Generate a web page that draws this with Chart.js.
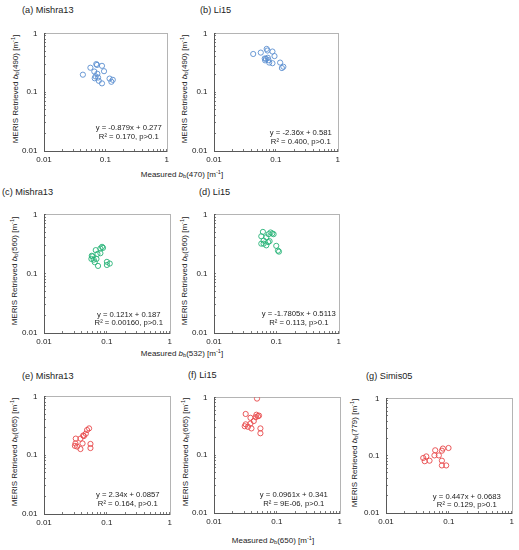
<!DOCTYPE html>
<html>
<head>
<meta charset="utf-8">
<script src="https://cdn.jsdelivr.net/npm/chart.js@4.4.1/dist/chart.umd.min.js"></script>
<style>
  body { margin: 0; background: #fff; }
  #wrap { position: relative; width: 519px; height: 550px; overflow: hidden;
          font-family: "Liberation Sans", Arial, sans-serif; color: #222; }
  .panel { position: absolute; }
  .lbl { position: absolute; white-space: nowrap; line-height: 1; }
  .ttl { font-size: 9.2px; }
  .ax { font-size: 8px; transform: translate(-50%, -50%); }
  .yax { font-size: 8px; transform: translate(-50%, -50%) rotate(-90deg); }
  .sb { font-size: 70%; vertical-align: -0.25em; }
  .sp { font-size: 70%; vertical-align: 0.45em; }
</style>
</head>
<body>
<div id="wrap">
  <div class="lbl ttl" style="left:22px;top:6px">(a) Mishra13</div>
  <div class="lbl ttl" style="left:200px;top:6px">(b) Li15</div>
  <div class="lbl ttl" style="left:2px;top:188px">(c) Mishra13</div>
  <div class="lbl ttl" style="left:199px;top:188px">(d) Li15</div>
  <div class="lbl ttl" style="left:22px;top:372px">(e) Mishra13</div>
  <div class="lbl ttl" style="left:188px;top:371px">(f) Li15</div>
  <div class="lbl ttl" style="left:366px;top:372px">(g) Simis05</div>

  <div class="lbl yax" style="left:16px;top:89px">MERIS Retrieved <i>b</i><span class="sb">b</span>(490) [m<span class="sp">-1</span>]</div>
  <div class="lbl yax" style="left:185px;top:89px">MERIS Retrieved <i>b</i><span class="sb">b</span>(490) [m<span class="sp">-1</span>]</div>
  <div class="lbl yax" style="left:15px;top:271px">MERIS Retrieved <i>b</i><span class="sb">b</span>(560) [m<span class="sp">-1</span>]</div>
  <div class="lbl yax" style="left:185px;top:271px">MERIS Retrieved <i>b</i><span class="sb">b</span>(560) [m<span class="sp">-1</span>]</div>
  <div class="lbl yax" style="left:15px;top:452px">MERIS Retrieved <i>b</i><span class="sb">b</span>(665) [m<span class="sp">-1</span>]</div>
  <div class="lbl yax" style="left:186px;top:452px">MERIS Retrieved <i>b</i><span class="sb">b</span>(665) [m<span class="sp">-1</span>]</div>
  <div class="lbl yax" style="left:355px;top:453px">MERIS Retrieved <i>b</i><span class="sb">b</span>(779) [m<span class="sp">-1</span>]</div>

  <div class="lbl ax" style="left:182px;top:175px">Measured <i>b</i><span class="sb">b</span>(470) [m<span class="sp">-1</span>]</div>
  <div class="lbl ax" style="left:182px;top:354px">Measured <i>b</i><span class="sb">b</span>(532) [m<span class="sp">-1</span>]</div>
  <div class="lbl ax" style="left:273px;top:541px">Measured <i>b</i><span class="sb">b</span>(650) [m<span class="sp">-1</span>]</div>
</div>
<script>
// log axis ticks (minor ones unlabeled)
const tickValues = [0.01, 0.02, 0.03, 0.04, 0.05, 0.06, 0.07, 0.08, 0.09,
                    0.1, 0.2, 0.3, 0.4, 0.5, 0.6, 0.7, 0.8, 0.9, 1];
const majorTicks = [0.01, 0.1, 1];
const majorTickLabels = ['0.01', '0.1', '1'];

// (a)/(b) measured bb(470) vs MERIS bb(490)
const meas470 = [0.043, 0.057, 0.071, 0.073, 0.088, 0.095, 0.066, 0.074, 0.069, 0.076, 0.067, 0.078, 0.088, 0.117, 0.132, 0.125];
const mishra490 = [0.198, 0.26, 0.30, 0.29, 0.28, 0.227, 0.224, 0.205, 0.185, 0.177, 0.172, 0.156, 0.141, 0.17, 0.162, 0.15];
const li490 = [0.445, 0.47, 0.543, 0.51, 0.49, 0.41, 0.373, 0.384, 0.369, 0.35, 0.347, 0.318, 0.31, 0.318, 0.27, 0.257];

// (c)/(d) measured bb(532) vs MERIS bb(560)
const meas532c = [0.0837, 0.0789, 0.0868, 0.0789, 0.0708, 0.0589, 0.0567, 0.0618, 0.0683, 0.0641, 0.0723, 0.1, 0.111, 0.1, 0.0575, 0.0665];
const mishra560 = [0.283, 0.265, 0.272, 0.221, 0.215, 0.195, 0.177, 0.172, 0.177, 0.156, 0.135, 0.158, 0.148, 0.14, 0.2, 0.249];
const meas532d = [0.0608, 0.0573, 0.0624, 0.0689, 0.075, 0.0807, 0.0859, 0.0902, 0.0573, 0.0624, 0.0689, 0.0741, 0.0778, 0.0995, 0.106, 0.11];
const li560 = [0.505, 0.426, 0.361, 0.41, 0.463, 0.494, 0.475, 0.463, 0.32, 0.32, 0.3, 0.34, 0.353, 0.294, 0.244, 0.235];

// (e)/(f)/(g) measured bb(650) vs MERIS bb(665) / bb(779)
const meas650e = [0.0521, 0.0484, 0.0462, 0.043, 0.032, 0.038, 0.041, 0.0316, 0.031, 0.0336, 0.038, 0.0548, 0.0548, 0.042];
const mishra665 = [0.285, 0.267, 0.231, 0.211, 0.191, 0.191, 0.158, 0.158, 0.144, 0.14, 0.127, 0.155, 0.132, 0.216];
const meas650f = [0.0483, 0.0319, 0.038, 0.0473, 0.05, 0.052, 0.046, 0.0429, 0.038, 0.0319, 0.0308, 0.0347, 0.0394, 0.0547, 0.0547];
const li665 = [0.95, 0.515, 0.442, 0.5, 0.471, 0.482, 0.454, 0.389, 0.351, 0.341, 0.316, 0.309, 0.29, 0.29, 0.239];
const meas650g = [0.0391, 0.0437, 0.0413, 0.0492, 0.0606, 0.0589, 0.0692, 0.0803, 0.0987, 0.0774, 0.0774, 0.0774, 0.0906];
const simis779 = [0.091, 0.097, 0.08, 0.0817, 0.124, 0.101, 0.101, 0.133, 0.136, 0.122, 0.0817, 0.0675, 0.0675];

const fitLines = {
  a: ['y = -0.879x + 0.277', 'R² = 0.170, p>0.1'],
  b: ['y = -2.36x + 0.581', 'R² = 0.400, p>0.1'],
  c: ['y = 0.121x + 0.187', 'R² = 0.00160, p>0.1'],
  d: ['y = -1.7805x + 0.5113', 'R² = 0.113, p>0.1'],
  e: ['y = 2.34x + 0.0857', 'R² = 0.164, p>0.1'],
  f: ['y = 0.0961x + 0.341', 'R² = 9E-06, p>0.1'],
  g: ['y = 0.447x + 0.0683', 'R² = 0.129, p>0.1']
};

const BLUE = '#5b8fd0', GREEN = '#27b377', RED = '#e8474a';
const AXIS = '#595959';
const FONT = '"Liberation Sans", Arial, sans-serif';

// plot rect: left, top, width, height; eq = [centre offset from right, line1 offset from bottom]
const panels = [
  { id: 'a', x: meas470, y: mishra490, color: BLUE, rect: [44, 28, 123, 123], eq: [38, 23] },
  { id: 'b', x: meas470, y: li490, color: BLUE, rect: [214, 28, 124, 123], eq: [37, 18] },
  { id: 'c', x: meas532c, y: mishra560, color: GREEN, rect: [44, 209, 126, 124], eq: [41, 18.5] },
  { id: 'd', x: meas532d, y: li560, color: GREEN, rect: [214, 209, 125, 124], eq: [40, 19] },
  { id: 'e', x: meas650e, y: mishra665, color: RED, rect: [44, 391, 126, 123], eq: [42, 19] },
  { id: 'f', x: meas650f, y: li665, color: RED, rect: [214, 392, 126, 121], eq: [46, 17.7] },
  { id: 'g', x: meas650g, y: simis779, color: RED, rect: [386, 393, 126, 120], eq: [45, 16.6] }
];

const framePlugin = {
  id: 'frame',
  beforeDraw(chart) {
    const a = chart.chartArea, g = chart.ctx;
    g.save();
    g.strokeStyle = '#b4b4b4';
    g.lineWidth = 1;
    g.strokeRect(Math.round(a.left) + 0.5, Math.round(a.top) + 0.5, Math.round(a.width), Math.round(a.height));
    g.restore();
  }
};

const eqPlugin = {
  id: 'eq',
  afterDraw(chart, args, opts) {
    if (!opts.lines) return;
    const a = chart.chartArea, g = chart.ctx;
    g.save();
    g.font = '7.7px ' + FONT;
    g.fillStyle = '#222';
    g.textAlign = 'center';
    g.textBaseline = 'middle';
    const cx = a.right - opts.pos[0];
    opts.lines.forEach((t, i) => g.fillText(t, cx, a.bottom - opts.pos[1] + i * 8.4));
    g.restore();
  }
};

function setTicks(scale) {
  scale.ticks = tickValues.map(v => ({ value: v, major: majorTicks.includes(v) }));
}

function tickLabel(v) {
  const k = majorTicks.indexOf(v);
  return k >= 0 ? majorTickLabels[k] : '';
}

const yW = 40, padT = 8, padR = 8, xH = 16;
const wrap = document.getElementById('wrap');

panels.forEach(p => {
  const [L, T, W, H] = p.rect;
  const box = document.createElement('div');
  box.className = 'panel';
  const cw = yW + W + padR, ch = padT + H + xH;
  box.style.left = (L - yW) + 'px';
  box.style.top = (T - padT) + 'px';
  box.style.width = cw + 'px';
  box.style.height = ch + 'px';
  const cv = document.createElement('canvas');
  cv.width = cw; cv.height = ch;
  cv.style.width = cw + 'px'; cv.style.height = ch + 'px';
  box.appendChild(cv);
  wrap.appendChild(box);

  const axisCommon = {
    type: 'logarithmic',
    min: 0.01,
    max: 1,
    afterBuildTicks: setTicks,
    grid: { drawOnChartArea: false, tickLength: -2, color: AXIS, lineWidth: 0.8 },
    border: { color: AXIS, width: 1 }
  };

  new Chart(cv, {
    type: 'scatter',
    data: {
      datasets: [{
        data: p.x.map((v, i) => ({ x: v, y: p.y[i] })),
        pointRadius: 2.6,
        pointHoverRadius: 2.6,
        pointBorderWidth: 0.9,
        pointBorderColor: p.color,
        pointBackgroundColor: 'rgba(0,0,0,0)'
      }]
    },
    options: {
      responsive: false,
      animation: false,
      events: [],
      layout: { padding: { top: padT, right: padR, left: 0, bottom: 0 } },
      plugins: {
        legend: { display: false },
        tooltip: { enabled: false },
        eq: { lines: fitLines[p.id], pos: p.eq }
      },
      scales: {
        x: Object.assign({}, axisCommon, {
          afterFit: s => { s.height = xH; },
          ticks: { autoSkip: false, maxRotation: 0, padding: 6, color: '#222', font: { size: 8, family: FONT }, callback: tickLabel }
        }),
        y: Object.assign({}, axisCommon, {
          afterFit: s => { s.width = yW; },
          ticks: { autoSkip: false, padding: 8.5, color: '#222', font: { size: 8, family: FONT }, callback: tickLabel }
        })
      }
    },
    plugins: [framePlugin, eqPlugin]
  });
});
</script>
</body>
</html>
